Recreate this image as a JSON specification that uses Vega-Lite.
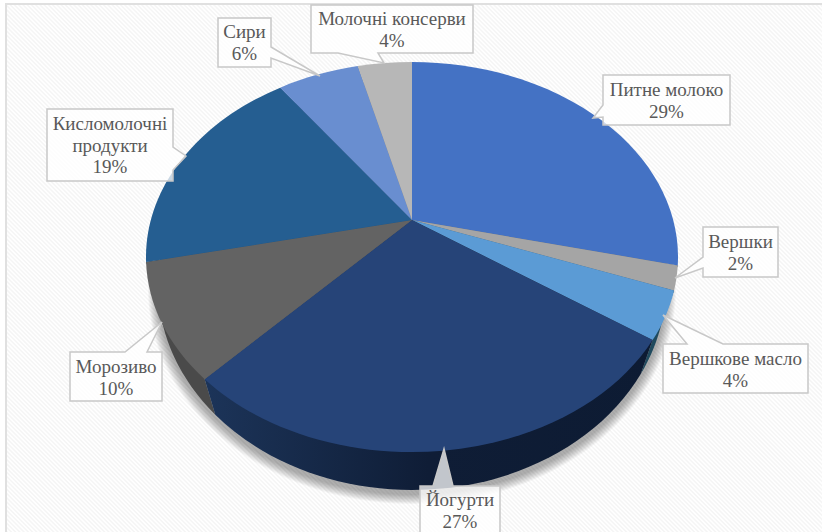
{
  "$schema": "https://vega.github.io/schema/vega-lite/v6.json",
  "width": 822,
  "height": 532,
  "padding": 0,
  "autosize": "none",
  "background": "#ffffff",
  "config": {"view": {"stroke": null}},
  "datasets": {
    "segments": [
      {"name": "Питне молоко", "share": 29},
      {"name": "Вершки", "share": 2},
      {"name": "Вершкове масло", "share": 4},
      {"name": "Йогурти", "share": 27},
      {"name": "Морозиво", "share": 10},
      {"name": "Кисломолочні продукти", "share": 19},
      {"name": "Сири", "share": 6},
      {"name": "Молочні консерви", "share": 4}
    ],
    "shadowRings": [
      {"spread": 1}, {"spread": 2}, {"spread": 3}, {"spread": 4}, {"spread": 5},
      {"spread": 6}, {"spread": 7}, {"spread": 8}, {"spread": 9}, {"spread": 10}
    ]
  },
  "data": {"name": "segments"},
  "transform": [
    {"joinaggregate": [{"op": "sum", "field": "share", "as": "total"}]},
    {"window": [{"op": "sum", "field": "share", "as": "cum"}], "ignorePeers": true, "frame": [null, 0]},
    {"calculate": "2 * PI * (datum.cum - datum.share) / datum.total", "as": "s0"},
    {"calculate": "2 * PI * datum.cum / datum.total", "as": "s1"},
    {"calculate": "datum.s0 + (datum.s0 > PI ? 0.038 * max(0, sin(2 * datum.s0)) : 0)", "as": "a0"},
    {"calculate": "datum.s1 + (datum.s1 > PI ? 0.038 * max(0, sin(2 * datum.s1)) : 0)", "as": "a1"},
    {"calculate": "412 + 266 * 0.9818 * sin(datum.a0) / (1 + 0.19 * cos(datum.a0))", "as": "tx0"},
    {"calculate": "257 - 195 * (cos(datum.a0) + 0.19) / (1 + 0.19 * cos(datum.a0))", "as": "ty0"},
    {"calculate": "412 + 266 * 0.9818 * sin(datum.a1) / (1 + 0.19 * cos(datum.a1))", "as": "tx1"},
    {"calculate": "257 - 195 * (cos(datum.a1) + 0.19) / (1 + 0.19 * cos(datum.a1))", "as": "ty1"},
    {"calculate": "412 + 254 * 0.9837 * sin(datum.a0) / (1 + 0.18 * cos(datum.a0))", "as": "bx0"},
    {"calculate": "285 - 205 * (cos(datum.a0) + 0.18) / (1 + 0.18 * cos(datum.a0))", "as": "by0"},
    {"calculate": "412 + 254 * 0.9837 * sin(datum.a1) / (1 + 0.18 * cos(datum.a1))", "as": "bx1"},
    {"calculate": "285 - 205 * (cos(datum.a1) + 0.18) / (1 + 0.18 * cos(datum.a1))", "as": "by1"},
    {"calculate": "'M412 220L' + datum.tx0 + ' ' + datum.ty0 + 'A266 195 0 0 1 ' + datum.tx1 + ' ' + datum.ty1 + 'Z'", "as": "facePath"},
    {"calculate": "'M412 220L' + datum.tx0 + ' ' + datum.ty0 + 'L' + datum.bx0 + ' ' + datum.by0 + 'A254 205 0 0 1 ' + datum.bx1 + ' ' + datum.by1 + 'L' + datum.tx1 + ' ' + datum.ty1 + 'Z'", "as": "wallPath"},
    {"calculate": "{'Питне молоко': 'M603 75L730 75L730 125L603 125L603 117L593 118L603 105Z', 'Вершки': 'M703 227L778 227L778 277L703 277L703 268L675 278L703 257Z', 'Вершкове масло': 'M663 344L687 344L663 315L723 344L808 344L808 393L663 393Z', 'Йогурти': 'M420 486L433 486L444 449L453 486L500 486L500 536L420 536Z', 'Морозиво': 'M70 352L125 352L162 322L147 352L162 352L162 401L70 401Z', 'Кисломолочні продукти': 'M47 109L173 109L173 147L186 156L173 170L173 181L47 181Z', 'Сири': 'M218 18L271 18L271 47L320 76L271 58L271 67L218 67Z', 'Молочні консерви': 'M311 5L473 5L473 53L378 53L384 63L338 53L311 53Z'}[datum.name]", "as": "calloutPath"},
    {"calculate": "{'Питне молоко': 666.5, 'Вершки': 740.5, 'Вершкове масло': 735.5, 'Йогурти': 460, 'Морозиво': 116, 'Кисломолочні продукти': 110, 'Сири': 244.5, 'Молочні консерви': 392}[datum.name]", "as": "labelX"},
    {"calculate": "{'Питне молоко': 90, 'Вершки': 242, 'Вершкове масло': 359, 'Йогурти': 500, 'Морозиво': 367, 'Кисломолочні продукти': 124, 'Сири': 32, 'Молочні консерви': 19}[datum.name]", "as": "labelY"},
    {"calculate": "(datum.name == 'Кисломолочні продукти' ? 'Кисломолочні\\nпродукти' : datum.name) + '\\n' + datum.share + '%'", "as": "label"}
  ],
  "layer": [
    {
      "data": {"values": [{"hatch": "M-300 1100L1100 -300"}]},
      "transform": [],
      "mark": {"type": "point", "filled": false, "size": 4, "opacity": 1, "stroke": "#f5f5f5", "strokeWidth": 1600, "strokeDash": [1.5, 1.5]},
      "encoding": {
        "x": {"datum": 0, "type": "quantitative", "scale": {"domain": [0, 822], "nice": false, "zero": false}, "axis": null},
        "y": {"datum": 0, "type": "quantitative", "scale": {"domain": [532, 0], "nice": false, "zero": false}, "axis": null},
        "shape": {"field": "hatch", "type": "nominal", "scale": null}
      }
    },
    {
      "data": {"values": [{"margin": "M0 0L830 0L830 4L6 4L6 540L0 540Z"}]},
      "transform": [],
      "mark": {"type": "point", "filled": true, "size": 4, "opacity": 1, "fill": "#ffffff", "strokeWidth": 0},
      "encoding": {
        "x": {"datum": 0, "type": "quantitative"},
        "y": {"datum": 0, "type": "quantitative"},
        "shape": {"field": "margin", "type": "nominal", "scale": null}
      }
    },
    {
      "data": {"values": [{"panel": "M6 545L6 4L835 4"}]},
      "transform": [],
      "mark": {"type": "point", "filled": false, "size": 4, "opacity": 1, "stroke": "#e0e0e0", "strokeWidth": 2},
      "encoding": {
        "x": {"datum": 0, "type": "quantitative"},
        "y": {"datum": 0, "type": "quantitative"},
        "shape": {"field": "panel", "type": "nominal", "scale": null}
      }
    },
    {
      "data": {"name": "shadowRings"},
      "transform": [
        {"calculate": "'M' + (412 - 254 - datum.spread) + ' 289A' + (254 + datum.spread) + ' ' + (205 + datum.spread) + ' 0 1 1 ' + (412 + 254 + datum.spread) + ' 289A' + (254 + datum.spread) + ' ' + (205 + datum.spread) + ' 0 1 1 ' + (412 - 254 - datum.spread) + ' 289Z'", "as": "ring"}
      ],
      "mark": {"type": "point", "filled": true, "size": 4, "opacity": 0.035, "fill": "#000000", "strokeWidth": 0},
      "encoding": {
        "x": {"datum": 0, "type": "quantitative"},
        "y": {"datum": 0, "type": "quantitative"},
        "shape": {"field": "ring", "type": "nominal", "scale": null}
      }
    },
    {
      "transform": [{"filter": "datum.name != 'Йогурти'"}],
      "mark": {"type": "point", "filled": true, "size": 4, "opacity": 1, "strokeWidth": 0},
      "encoding": {
        "x": {"datum": 0, "type": "quantitative"},
        "y": {"datum": 0, "type": "quantitative"},
        "shape": {"field": "wallPath", "type": "nominal", "scale": null},
        "color": {"field": "name", "type": "nominal", "legend": null, "scale": {
          "domain": ["Питне молоко", "Вершки", "Вершкове масло", "Морозиво", "Кисломолочні продукти", "Сири", "Молочні консерви"],
          "range": ["#2a4a80", "#6b6b6b", "#1f4a5e", "#4a4a4a", "#173f62", "#44629a", "#7a7a7a"]
        }}
      }
    },
    {
      "transform": [{"filter": "datum.name == 'Йогурти'"}],
      "mark": {"type": "point", "filled": true, "size": 4, "opacity": 1, "strokeWidth": 0, "fill": {
        "gradient": "linear", "x1": 0, "x2": 1, "y1": 0, "y2": 0,
        "stops": [{"offset": 0, "color": "#1c3459"}, {"offset": 0.5, "color": "#0f1d36"}, {"offset": 1, "color": "#0d1b33"}]
      }},
      "encoding": {
        "x": {"datum": 0, "type": "quantitative"},
        "y": {"datum": 0, "type": "quantitative"},
        "shape": {"field": "wallPath", "type": "nominal", "scale": null}
      }
    },
    {
      "mark": {"type": "point", "filled": true, "size": 4, "opacity": 1, "strokeWidth": 0},
      "encoding": {
        "x": {"datum": 0, "type": "quantitative"},
        "y": {"datum": 0, "type": "quantitative"},
        "shape": {"field": "facePath", "type": "nominal", "scale": null},
        "fill": {"field": "name", "type": "nominal", "legend": null, "scale": {
          "domain": ["Питне молоко", "Вершки", "Вершкове масло", "Йогурти", "Морозиво", "Кисломолочні продукти", "Сири", "Молочні консерви"],
          "range": ["#4472c4", "#a5a5a5", "#5b9bd5", "#264478", "#636363", "#255e91", "#698ed0", "#b7b7b7"]
        }}
      }
    },
    {
      "mark": {"type": "point", "filled": true, "size": 4, "opacity": 1, "fill": "#ffffff", "fillOpacity": 0.75, "stroke": "#c8c8c8", "strokeWidth": 1.5},
      "encoding": {
        "x": {"datum": 0, "type": "quantitative"},
        "y": {"datum": 0, "type": "quantitative"},
        "shape": {"field": "calloutPath", "type": "nominal", "scale": null}
      }
    },
    {
      "mark": {"type": "text", "font": "Liberation Serif", "fontSize": 19, "color": "#595959", "align": "center", "baseline": "middle", "lineBreak": "\n", "lineHeight": 21.5},
      "encoding": {
        "x": {"field": "labelX", "type": "quantitative"},
        "y": {"field": "labelY", "type": "quantitative"},
        "text": {"field": "label", "type": "nominal"}
      }
    }
  ]
}
